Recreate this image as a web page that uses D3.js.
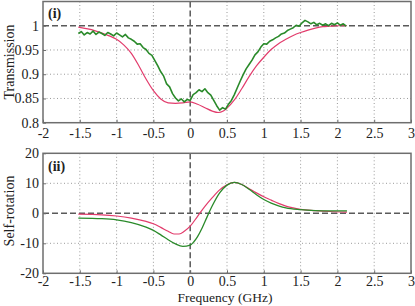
<!DOCTYPE html>
<html>
<head>
<meta charset="utf-8">
<script src="https://cdn.jsdelivr.net/npm/d3@7"></script>
<style>
  body { margin: 0; background: #fff; }
  svg { display: block; font-family: "Liberation Serif", "Times New Roman", serif; }
</style>
</head>
<body>
<svg id="chart" width="415" height="306"></svg>
<script>
// frequency ticks shared by both panels
const freqTicks = [-2, -1.5, -1, -0.5, 0, 0.5, 1, 1.5, 2, 2.5, 3];
const transTicks = [0.8, 0.85, 0.9, 0.95, 1];
const rotTicks = [-20, -10, 0, 10, 20];

// (i) measured transmission (noisy green trace)
const transMeasured = [
  [-1.52, 0.984], [-1.48, 0.988], [-1.44, 0.981], [-1.40, 0.986], [-1.36, 0.983],
  [-1.32, 0.989], [-1.28, 0.982], [-1.24, 0.987], [-1.20, 0.984], [-1.16, 0.980],
  [-1.12, 0.986], [-1.08, 0.983], [-1.04, 0.979], [-1.00, 0.985], [-0.96, 0.981],
  [-0.92, 0.977], [-0.88, 0.982], [-0.84, 0.975], [-0.80, 0.972], [-0.76, 0.968],
  [-0.72, 0.962], [-0.68, 0.963], [-0.64, 0.955], [-0.60, 0.951], [-0.56, 0.943],
  [-0.52, 0.939], [-0.48, 0.928], [-0.44, 0.917], [-0.40, 0.905], [-0.36, 0.896],
  [-0.32, 0.880], [-0.28, 0.874], [-0.24, 0.860], [-0.20, 0.851], [-0.16, 0.845],
  [-0.12, 0.849], [-0.08, 0.843], [-0.04, 0.848], [0.00, 0.846], [0.04, 0.858],
  [0.08, 0.862], [0.12, 0.868], [0.16, 0.864], [0.20, 0.870], [0.24, 0.862],
  [0.28, 0.857], [0.32, 0.846], [0.36, 0.835], [0.40, 0.826], [0.44, 0.831],
  [0.48, 0.828], [0.52, 0.838], [0.56, 0.846], [0.60, 0.858], [0.64, 0.872],
  [0.68, 0.886], [0.72, 0.899], [0.76, 0.911], [0.80, 0.920], [0.84, 0.929],
  [0.88, 0.940], [0.92, 0.946], [0.96, 0.956], [1.00, 0.963], [1.04, 0.962],
  [1.08, 0.968], [1.12, 0.971], [1.16, 0.975], [1.20, 0.978], [1.24, 0.983],
  [1.28, 0.985], [1.32, 0.990], [1.36, 0.993], [1.40, 0.996], [1.44, 1.001],
  [1.48, 0.999], [1.52, 1.006], [1.56, 1.011], [1.60, 1.008], [1.64, 1.004],
  [1.68, 1.007], [1.72, 1.002], [1.76, 1.005], [1.80, 1.001], [1.84, 1.004],
  [1.88, 1.000], [1.92, 1.005], [1.96, 1.002], [2.00, 1.006], [2.04, 1.001],
  [2.08, 1.004], [2.12, 0.999]
];

// (i) theory transmission (red)
const transTheory = [
  [-1.52, 0.997], [-1.3, 0.990], [-1.1, 0.979], [-1.0, 0.972], [-0.9, 0.960],
  [-0.8, 0.943], [-0.7, 0.918], [-0.6, 0.890], [-0.5, 0.866], [-0.4, 0.849],
  [-0.3, 0.841], [-0.2, 0.840], [-0.1, 0.841], [0, 0.843], [0.1, 0.838],
  [0.2, 0.831], [0.3, 0.824], [0.38, 0.821], [0.45, 0.824], [0.5, 0.830],
  [0.6, 0.847], [0.7, 0.870], [0.8, 0.895], [0.9, 0.917], [1.0, 0.935],
  [1.1, 0.951], [1.2, 0.963], [1.3, 0.972], [1.4, 0.980], [1.5, 0.986],
  [1.6, 0.991], [1.7, 0.995], [1.8, 0.998], [1.9, 0.999], [2.0, 1.000], [2.13, 1.000]
];

// (ii) self-rotation, theory (red) and measured (green)
const rotTheory = [
  [-1.52, -0.3], [-1.2, -0.5], [-1.0, -0.9], [-0.8, -1.6], [-0.6, -2.7],
  [-0.5, -3.5], [-0.4, -4.7], [-0.3, -6.0], [-0.22, -6.9], [-0.15, -6.9],
  [-0.08, -6.0], [0, -4.3], [0.1, -1.0], [0.2, 2.3], [0.3, 5.2],
  [0.4, 7.8], [0.5, 9.5], [0.6, 10.3], [0.7, 9.6], [0.8, 8.2],
  [0.9, 6.8], [1.0, 5.5], [1.1, 4.4], [1.2, 3.3], [1.3, 2.4],
  [1.4, 1.8], [1.5, 1.3], [1.7, 0.9], [1.9, 0.6], [2.13, 0.4]
];
const rotMeasured = [
  [-1.52, -1.6], [-1.2, -1.8], [-1.0, -2.2], [-0.8, -3.1], [-0.6, -4.6],
  [-0.5, -5.7], [-0.4, -7.2], [-0.3, -8.8], [-0.2, -10.2], [-0.1, -11.0],
  [0, -10.6], [0.05, -9.5], [0.1, -7.8], [0.15, -5.5], [0.2, -2.8],
  [0.3, 2.5], [0.4, 6.8], [0.5, 9.4], [0.6, 10.3], [0.7, 9.6],
  [0.8, 8.0], [0.9, 6.2], [1.0, 4.6], [1.1, 3.4], [1.2, 2.5],
  [1.3, 1.8], [1.5, 1.2], [1.7, 0.9], [1.9, 0.8], [2.13, 0.8]
];

const svg = d3.select('#chart');
const red = '#e23c6c';
const green = '#2a8a2a';
const frameColor = '#6e6e6e';

const x = d3.scaleLinear().domain([-2, 3]).range([43, 411]);

function drawPanel(opts) {
    const y = d3.scaleLinear().domain(opts.domain).range(opts.range);
    const g = svg.append('g');
    const top = opts.range[1], bottom = opts.range[0];

    // dotted grid
    g.selectAll('.vgrid')
        .data(freqTicks.filter(d => d !== -2 && d !== 3 && d !== 0))
        .enter().append('line')
        .attr('x1', d => x(d)).attr('x2', d => x(d))
        .attr('y1', top).attr('y2', bottom)
        .attr('stroke', '#9a9a9a').attr('stroke-width', 1)
        .attr('stroke-dasharray', '1,2.5');

    g.selectAll('.hgrid')
        .data(opts.ticks.filter(d => d !== opts.dashY && d !== opts.domain[0] && d !== opts.domain[1]))
        .enter().append('line')
        .attr('x1', x(-2)).attr('x2', x(3))
        .attr('y1', d => y(d)).attr('y2', d => y(d))
        .attr('stroke', '#9a9a9a').attr('stroke-width', 1)
        .attr('stroke-dasharray', '1,2.5');

    // dashed reference lines
    g.append('line')
        .attr('x1', x(0)).attr('x2', x(0)).attr('y1', top).attr('y2', bottom)
        .attr('stroke', '#5a5a5a').attr('stroke-width', 1.5)
        .attr('stroke-dasharray', '6,3');
    g.append('line')
        .attr('x1', x(-2)).attr('x2', x(3)).attr('y1', y(opts.dashY)).attr('y2', y(opts.dashY))
        .attr('stroke', '#5a5a5a').attr('stroke-width', 1.5)
        .attr('stroke-dasharray', '6,3');

    // curves
    const line = d3.line()
        .x(d => x(d[0]))
        .y(d => y(d[1]));

    g.append('path')
        .datum(opts.theory)
        .attr('fill', 'none')
        .attr('stroke', red)
        .attr('stroke-width', 1.2)
        .attr('d', line.curve(d3.curveMonotoneX));

    g.append('path')
        .datum(opts.measured)
        .attr('fill', 'none')
        .attr('stroke', green)
        .attr('stroke-width', opts.noisy ? 1.6 : 1.3)
        .attr('stroke-linejoin', 'round')
        .attr('d', line.curve(opts.noisy ? d3.curveLinear : d3.curveMonotoneX));

    // axes (labels only, ticks inside)
    const xAxis = d3.axisBottom(x).tickValues(freqTicks).tickSize(-3).tickPadding(opts.xPad)
        .tickFormat(d => String(d));
    const xg = g.append('g')
        .attr('transform', `translate(0, ${bottom})`)
        .call(xAxis);
    xg.select('.domain').remove();
    xg.selectAll('line').attr('stroke', frameColor);
    xg.selectAll('text')
        .attr('font-size', 14)
        .attr('font-family', '"Liberation Serif", serif')
        .attr('fill', '#222');

    const yAxis = d3.axisLeft(y).tickValues(opts.ticks).tickSize(-3).tickPadding(4)
        .tickFormat(d => String(d));
    const yg = g.append('g')
        .attr('transform', `translate(${x(-2)}, 0)`)
        .call(yAxis);
    yg.select('.domain').remove();
    yg.selectAll('line').attr('stroke', frameColor);
    yg.selectAll('text')
        .attr('font-size', 14)
        .attr('font-family', '"Liberation Serif", serif')
        .attr('fill', '#222');

    // frame
    g.append('rect')
        .attr('x', x(-2)).attr('y', top)
        .attr('width', x(3) - x(-2)).attr('height', bottom - top)
        .attr('fill', 'none')
        .attr('stroke', frameColor)
        .attr('stroke-width', 1.5);

    // panel tag
    g.append('text')
        .attr('x', 48).attr('y', top + opts.tagDy)
        .attr('font-size', 14).attr('font-weight', 'bold')
        .attr('fill', '#222')
        .text(opts.tag);

    // y label
    g.append('text')
        .attr('transform', `translate(14, ${opts.labelY}) rotate(-90)`)
        .attr('text-anchor', 'middle')
        .attr('font-size', 14)
        .attr('fill', '#222')
        .text(opts.label);
}

drawPanel({
    domain: [0.8, 1.05], range: [122.7, 1.5],
    ticks: transTicks, dashY: 1, xPad: 5,
    theory: transTheory, measured: transMeasured, noisy: true,
    tag: '(i)', tagDy: 16, label: 'Transmission', labelY: 62
});

drawPanel({
    domain: [-20, 20], range: [273.3, 153.3],
    ticks: rotTicks, dashY: 0, xPad: 3,
    theory: rotTheory, measured: rotMeasured, noisy: false,
    tag: '(ii)', tagDy: 18, label: 'Self-rotation', labelY: 211
});

svg.append('text')
    .attr('x', 225).attr('y', 302)
    .attr('text-anchor', 'middle')
    .attr('font-size', 13.5)
    .attr('fill', '#222')
    .text('Frequency (GHz)');
</script>
</body>
</html>
